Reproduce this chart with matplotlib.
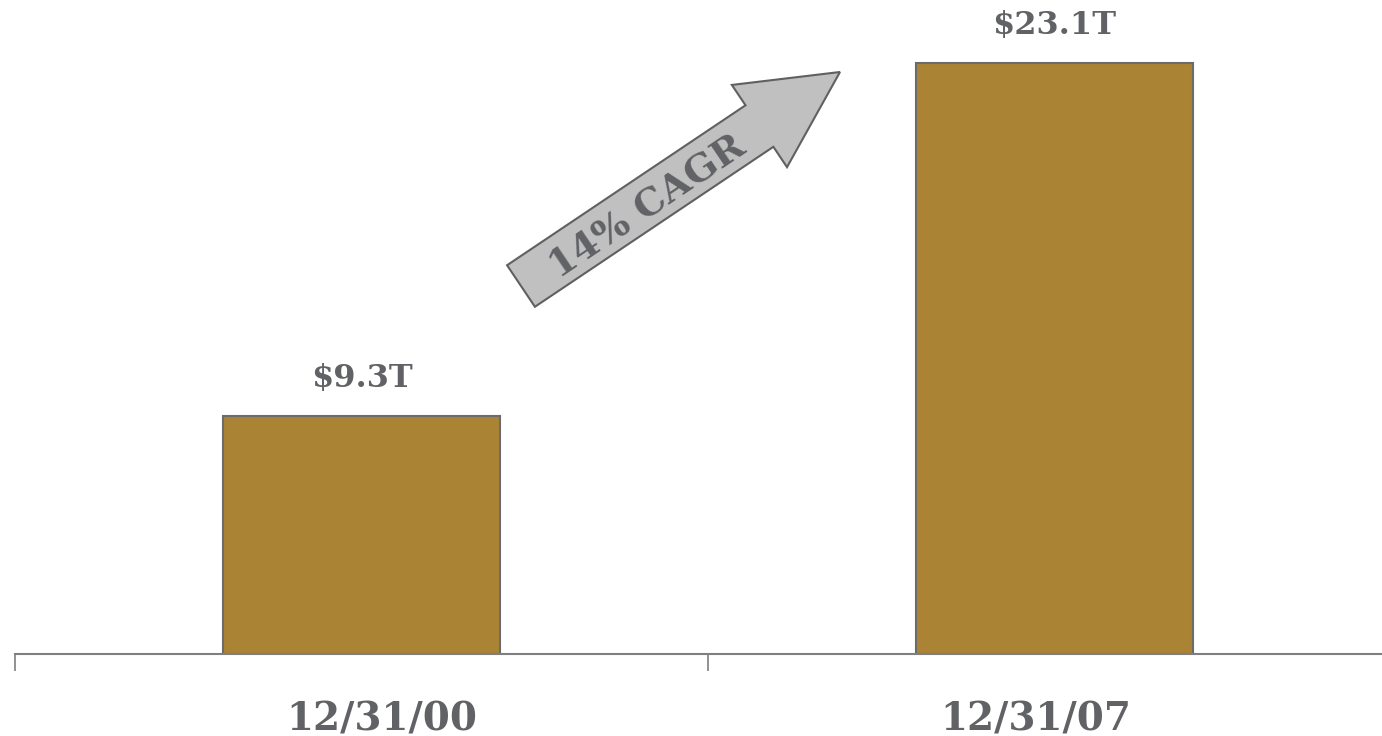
import matplotlib.pyplot as plt
from matplotlib.patches import FancyArrow
from matplotlib.transforms import IdentityTransform

categories = ['12/31/00', '12/31/07']
values = [9.3, 23.1]
value_labels = ['$9.3T', '$23.1T']
growth_label = '14% CAGR'

bar_color = '#AA8434'
edge_color = '#6b6b6b'
text_color = '#616265'

fig = plt.figure(figsize=(13.82, 7.36), dpi=100)
# axes runs a bit past the right edge, like the original slide
ax = fig.add_axes([15 / 1382, 82 / 736, 1386 / 1382, 654 / 736])

x = list(range(len(categories)))
ax.bar(x, values, width=0.4, color=bar_color, edgecolor=edge_color, linewidth=1.5)

for xi, v, lab in zip(x, values, value_labels):
    ax.text(xi, v + 0.85, lab, ha='center', va='bottom', fontsize=23,
            fontweight='bold', family='DejaVu Serif', color=text_color)

ax.set_xlim(-0.5, 1.5)
ax.set_ylim(0, 654 / (591 / 23.1))

for s in ['top', 'right', 'left']:
    ax.spines[s].set_visible(False)
ax.spines['bottom'].set_color('#7f7f7f')
ax.spines['bottom'].set_linewidth(1.5)
ax.set_yticks([])
ax.set_xticks([-0.5, 0.5, 1.5])
ax.set_xticklabels([])
ax.tick_params(axis='x', length=12, width=1.2, color='#7f7f7f', direction='out')

# category names sit near the bottom edge of the slide (not quite centred on the bars)
label_px = [382, 1036]
for px, c in zip(label_px, categories):
    fig.text(px / 1382, 6 / 736, c, ha='center', va='baseline',
             fontsize=28, fontweight='bold', family='DejaVu Serif', color=text_color)

# growth arrow, drawn in figure pixels
arrow = FancyArrow(521, 450, 319, 214, width=50, head_width=99, head_length=97,
                   length_includes_head=True, facecolor='#c0c0c0', edgecolor='#5f6062',
                   linewidth=1.5, transform=IdentityTransform())
fig.add_artist(arrow)
fig.text(647 / 1382, 530 / 736, growth_label, rotation=34, ha='center', va='center',
         rotation_mode='anchor', fontsize=27.5, fontweight='bold', family='DejaVu Serif',
         color=text_color)

fig.savefig('out.png', dpi=100)
